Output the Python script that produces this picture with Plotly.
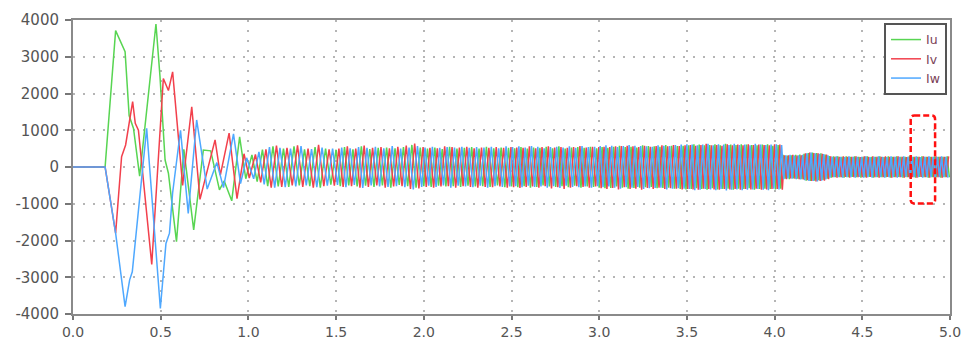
import numpy as np
import plotly.graph_objects as go

# ---------------- data ----------------
# start-up transient (time s, current A)
iu_t0 = [0, 0.183, 0.243, 0.297, 0.32, 0.345, 0.38, 0.473, 0.496, 0.525, 0.544, 0.59, 0.632, 0.688,
         0.743, 0.785, 0.835, 0.862, 0.905, 0.95, 0.985]
iu_v0 = [0, 0, 3710, 3140, 1400, 1050, -250, 3890, 2460, 190, -170, -2030, 480, -1710,
         460, 440, -620, -380, -920, 820, -320]

iv_t0 = [0, 0.183, 0.243, 0.277, 0.30, 0.34, 0.355, 0.373, 0.449, 0.515, 0.544, 0.568, 0.625, 0.677,
         0.724, 0.81, 0.84, 0.89, 0.935, 0.975, 1.005]
iv_v0 = [0, 0, -1800, 280, 600, 1780, 1190, 1000, -2650, 2410, 2080, 2590, -500, 1640,
         -880, 740, -220, 920, -860, 360, -300]

iw_t0 = [0, 0.183, 0.243, 0.297, 0.323, 0.338, 0.42, 0.498, 0.53, 0.55, 0.568, 0.613, 0.657, 0.705,
         0.765, 0.82, 0.858, 0.915, 0.955, 0.99]
iw_v0 = [0, 0, -1800, -3800, -3070, -2850, 1050, -3850, -2080, -1800, -700, 1000, -1260, 1280,
         -600, 120, -560, 900, -450, 250]

# running part: sampling segments (start/end time, sample step) and the
# successive peak / trough values of each phase
seg_bounds = [1.02, 1.50, 2.00, 2.50, 3.00, 3.50, 4.04, 5.00]
seg_step = [0.010, 0.008, 0.007, 0.006, 0.0055, 0.005, 0.004]

iu_peaks = [
    330, -400, 470, -520, 560, -530, 500, -540, 560, -500, 480, -520, 540, -560, 500, -480,
    470, -520, 540, -500, 480, -530, 560, -510, 490, -540, 520, -500, 530, -560, 510, -490, 540, -520, 600, -560, 530,
    -520, 500, -540, 530, -510, 490, -530, 550, -520, 500, -540, 520, -510, 540, -530, 500, -520, 550, -540, 510, -500, 530, -550, 520,
    -530, 510, -550, 540, -520, 500, -560, 530, -540, 520, -500, 550, -530, 510, -540, 560, -520, 500, -550, 530, -510, 540, -560, 520, -530, 550, -540, 510,
    -560, 540, -580, 520, -570, 550, -530, 580, -560, 540, -590, 550, -570, 530, -560, 590, -550, 570, -540, 560, -580, 550, -570, 600, -560, 580, -590, 570, -600, 580, -610,
    590, -600, 620, -580, 610, -600, 590, -620, 600, -580, 620, -610, 590, -600, 630, -590, 610, -620, 600, -590, 620, -600, 610, -580, 600, -620, 590, -600, 610, -590, 620, -600, 580, -610, 600, -590,
    330, -320, 310, -330, 320, -310, 330, -320, 340, -330,
    360, -370, 380, -380, 390, -370, 380, -360, 370, -350, 340, -320,
    300, -290, 290, -280, 290, -280, 280, -290, 290, -280,
    280, -270, 290, -280, 280, -290, 280, -280, 290, -270,
    280, -290, 280, -280, 290, -280, 270, -280, 290, -290,
    280, -280, 290, -270, 280, -290, 280, -280, 290, -280,
    280, -290, 280, -270, 290, -280, 280, -290, 280, -280,
    290, -280, 280, -290, 280, -280, 290, -280, 290, -280, 280, -290,
]

iv_peaks = [
    340, -420, 480, -560, 580, -540, 520, -500, 590, -540, 500, -560, 600, -520, 480, -510,
    500, -540, 560, -520, 500, -560, 580, -540, 520, -500, 540, -560, 510, -530, 550, -520, 580, -600, 640, -580, 540,
    -540, 520, -560, 510, -530, 560, -520, 540, -560, 530, -520, 550, -540, 510, -560, 530, -540, 520, -550, 540, -530, 520, -560, 540,
    -550, 530, -570, 520, -540, 560, -530, 510, -560, 540, -520, 560, -580, 530, -550, 540, -600, 520, -560, 540, -520, 570, -540, 530, -560, 550, -530, 540,
    -580, 550, -600, 540, -570, 560, -610, 570, -550, 580, -600, 560, -590, 540, -620, 580, -570, 550, -600, 570, -560, 590, -600, 560, -580, 600, -590, 570, -610, 590, -600,
    600, -610, 580, -620, 600, -590, 630, -600, 590, -610, 600, -620, 580, -600, 620, -610, 590, -600, 610, -620, 590, -600, 620, -610, 600, -590, 610, -620, 600, -610, 590, -600, 620, -600, 610, -620,
    320, -330, 320, -310, 330, -320, 310, -330, 320, -340,
    370, -360, 390, -380, 380, -390, 370, -380, 360, -370, 340, -330,
    290, -280, 280, -290, 280, -280, 290, -270, 280, -290,
    280, -280, 290, -280, 270, -280, 290, -290, 280, -270,
    290, -280, 280, -290, 280, -280, 290, -270, 280, -290,
    280, -280, 290, -280, 280, -290, 270, -280, 290, -280,
    280, -290, 280, -270, 290, -280, 280, -290, 280, -280,
    290, -280, 280, -290, 280, -280, 290, -280, 280, -290, 280, -280,
]

iw_peaks = [
    -320, 410, -470, 540, -560, 520, -550, 500, -530, 570, -500, 490, -550, 530, -510, 500,
    -490, 530, -550, 510, -490, 540, -570, 520, -500, 550, -530, 510, -540, 570, -520, 500, -550, 530, -610, 570, -540,
    530, -510, 550, -540, 520, -500, 540, -560, 530, -510, 550, -530, 520, -550, 540, -510, 530, -560, 550, -520, 510, -540, 560, -530,
    540, -520, 560, -550, 530, -510, 570, -540, 550, -530, 510, -560, 540, -520, 550, -570, 530, -510, 560, -540, 520, -550, 570, -530, 540, -560, 550, -520,
    570, -550, 590, -530, 580, -560, 540, -590, 570, -550, 600, -560, 580, -540, 570, -600, 560, -580, 550, -570, 590, -560, 580, -610, 570, -590, 600, -580, 610, -590, 620,
    -600, 610, -630, 590, -620, 610, -600, 630, -610, 590, -630, 620, -600, 610, -640, 600, -620, 630, -610, 600, -630, 610, -620, 590, -610, 630, -600, 610, -620, 600, -630, 610, -590, 620, -610, 600,
    -330, 320, -310, 330, -320, 310, -330, 320, -340, 330,
    -360, 370, -380, 390, -380, 370, -390, 360, -370, 350, -340, 320,
    -290, 280, -280, 290, -280, 280, -290, 270, -280, 290,
    -280, 280, -290, 280, -270, 280, -290, 290, -280, 270,
    -290, 280, -280, 290, -280, 280, -290, 270, -280, 290,
    -280, 280, -290, 280, -280, 290, -270, 280, -290, 280,
    -280, 290, -280, 270, -290, 280, -280, 290, -280, 280,
    -290, 280, -280, 290, -280, 280, -290, 280, -280, 290, -280, 280,
]

series_names = ["Iu", "Iv", "Iw"]
series_colors = ["#58d552", "#f2404c", "#4ea8ff"]

x_tickvals = [0.0, 0.5, 1.0, 1.5, 2.0, 2.5, 3.0, 3.5, 4.0, 4.5, 5.0]
x_ticktext = ["0.0", "0.5", "1.0", "1.5", "2.0", "2.5", "3.0", "3.5", "4.0", "4.5", "5.0"]
y_tickvals = [-4000, -3000, -2000, -1000, 0, 1000, 2000, 3000, 4000]
y_ticktext = ["-4000", "-3000", "-2000", "-1000", "0", "1000", "2000", "3000", "4000"]

# highlighted window (time range, current range)
box_t = [4.776, 4.915]
box_i = [-990, 1400]

# ---------------- build ----------------
grid = np.concatenate([np.arange(a, b - 1e-9, s)
                       for a, b, s in zip(seg_bounds[:-1], seg_bounds[1:], seg_step)])
phase_times = [grid[0::3], grid[2::3], grid[1::3]]
peaks = [iu_peaks, iv_peaks, iw_peaks]
starts = [(iu_t0, iu_v0), (iv_t0, iv_v0), (iw_t0, iw_v0)]

fig = go.Figure()
for name, color, (t0, v0), tp, pk in zip(series_names, series_colors, starts, phase_times, peaks):
    n = min(len(tp), len(pk))
    x = list(t0) + list(tp[:n])
    y = list(v0) + list(pk[:n])
    fig.add_trace(go.Scatter(x=x, y=y, mode="lines", name=name,
                             line=dict(color=color, width=1.5)))

rx, ry = 0.02, 100
x0, x1 = box_t
y0, y1 = box_i
path = (f"M {x0+rx},{y1} L {x1-rx},{y1} Q {x1},{y1} {x1},{y1-ry} "
        f"L {x1},{y0+ry} Q {x1},{y0} {x1-rx},{y0} L {x0+rx},{y0} "
        f"Q {x0},{y0} {x0},{y0+ry} L {x0},{y1-ry} Q {x0},{y1} {x0+rx},{y1} Z")
fig.add_shape(type="path", path=path, xref="x", yref="y",
              line=dict(color="#ff1010", width=2.5, dash="6px,3px"))

axis_common = dict(showline=True, mirror=True, linecolor="#8a8a8a", linewidth=2,
                   ticks="outside", tickcolor="#777", tickwidth=1.5,
                   showgrid=True, gridcolor="#b5b5b5", gridwidth=1.5, griddash="2px,8px",
                   zeroline=False, automargin=False)

fig.update_xaxes(range=[0, 5], tickvals=x_tickvals, ticktext=x_ticktext, ticklen=4,
                 tickfont=dict(family="DejaVu Sans", size=14, color="#555"), **axis_common)
fig.update_yaxes(range=[-4000, 4000], tickvals=y_tickvals, ticktext=y_ticktext,
                 ticklen=6, ticklabelstandoff=3,
                 tickfont=dict(family="DejaVu Sans", size=15, color="#555"), **axis_common)

fig.update_layout(
    width=962, height=341, autosize=False,
    margin=dict(l=73, r=12, t=20, b=27),
    paper_bgcolor="white", plot_bgcolor="white",
    showlegend=True,
    legend=dict(x=0.9966, y=0.99, xanchor="right", yanchor="top",
                bgcolor="white", bordercolor="#555", borderwidth=2,
                font=dict(family="DejaVu Sans", size=12.5, color="#7a3e55"),
                itemwidth=30, tracegroupgap=0),
)

fig.write_html("out.html",
               config={"responsive": False, "displayModeBar": False},
               post_script="document.body.style.margin='0';document.body.style.overflow='hidden';")
